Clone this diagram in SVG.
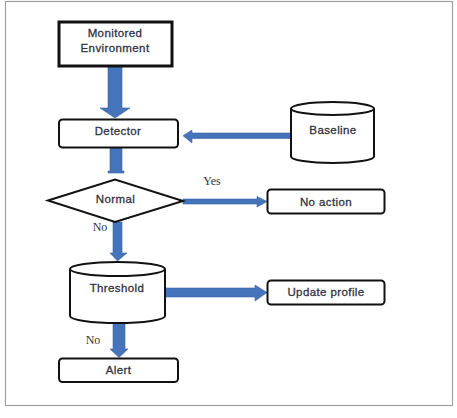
<svg xmlns="http://www.w3.org/2000/svg" width="457" height="418" viewBox="0 0 457 418">
  <style>
    .box { fill: #ffffff; stroke: #111111; stroke-width: 2; }
    .lbl { font-family: "Liberation Sans", Arial, sans-serif; font-size: 11.5px; fill: #2f3342; stroke: #2f3342; stroke-width: 0.3; text-anchor: middle; letter-spacing: 0.4px; }
    .cond { font-family: "Liberation Serif", "Times New Roman", serif; font-size: 12px; fill: #333333; text-anchor: middle; }
    .flow { fill: #4674bb; stroke: #3a63a3; stroke-width: 0.6; }
  </style>
  <rect width="457" height="418" fill="#ffffff"/>
  <rect x="5.5" y="1.5" width="447" height="404" fill="none" stroke="#a0a0a0" stroke-width="1.2"/>

  <!-- connectors -->
  <g id="connectors">
    <!-- Monitored Environment to Detector -->
    <polygon class="flow" points="108,66 122,66 122,108 130,108 115,118 100,108 108,108"/>
    <!-- Detector to Normal -->
    <polygon class="flow" points="110,148 122,148 122,171 124,171 124,173 108,173 108,171 110,171"/>
    <!-- Baseline to Detector -->
    <polygon class="flow" points="291,133 291,138.5 192,138.5 192,143 183,135.7 192,130 192,133"/>
    <!-- Normal to No action -->
    <polygon class="flow" points="183,199 257,199 257,196.5 267,201.5 257,207 257,204 183,204"/>
    <!-- Normal to Threshold -->
    <polygon class="flow" points="113,222 122,222 122,253 127,253 117.5,261 110,253 113,253"/>
    <!-- Threshold to Update profile -->
    <polygon class="flow" points="165,288 255,288 255,285 267,292.5 255,301 255,297 165,297"/>
    <!-- Threshold to Alert -->
    <polygon class="flow" points="113,323 125,323 125,349 128,349 119,357.5 110,349 113,349"/>
  </g>

  <g id="monitored-environment">
    <rect x="59" y="22" width="113" height="44" fill="#ffffff" stroke="#111111" stroke-width="3"/>
    <text class="lbl" x="115" y="37">Monitored</text>
    <text class="lbl" x="115" y="51.5">Environment</text>
  </g>

  <g id="detector">
    <rect class="box" x="59" y="119.5" width="119" height="28" rx="3.5"/>
    <text class="lbl" x="118" y="135">Detector</text>
  </g>

  <g id="baseline">
    <path class="box" d="M291,108.5 L291,156.5 A41.5,6.5 0 0 0 374,156.5 L374,108.5 A41.5,6.5 0 0 0 291,108.5 Z"/>
    <path d="M291,108.5 A41.5,6.5 0 0 0 374,108.5" fill="none" stroke="#111111" stroke-width="2"/>
    <text class="lbl" x="333" y="134">Baseline</text>
  </g>

  <g id="normal">
    <polygon class="box" points="48,200.5 115,179.5 183,201 115,222"/>
    <text class="lbl" x="115.5" y="203">Normal</text>
    <text class="cond" x="212" y="185">Yes</text>
    <text class="cond" x="100" y="231">No</text>
  </g>

  <g id="no-action">
    <rect class="box" x="267.5" y="189.5" width="117" height="24" rx="3.5"/>
    <text class="lbl" x="326" y="205.5">No action</text>
  </g>

  <g id="threshold">
    <path class="box" d="M70,269 L70,316 A47.5,7 0 0 0 165,316 L165,269 A47.5,7 0 0 0 70,269 Z"/>
    <path d="M70,269 A47.5,7 0 0 0 165,269" fill="none" stroke="#111111" stroke-width="2"/>
    <text class="lbl" x="117" y="292">Threshold</text>
  </g>

  <g id="update-profile">
    <rect class="box" x="267.5" y="280.5" width="117" height="24" rx="3.5"/>
    <text class="lbl" x="326" y="296">Update profile</text>
  </g>

  <g id="alert">
    <text class="cond" x="93" y="344">No</text>
    <rect class="box" x="59" y="358.5" width="119" height="23.5" rx="3.5"/>
    <text class="lbl" x="118.5" y="374">Alert</text>
  </g>
</svg>
